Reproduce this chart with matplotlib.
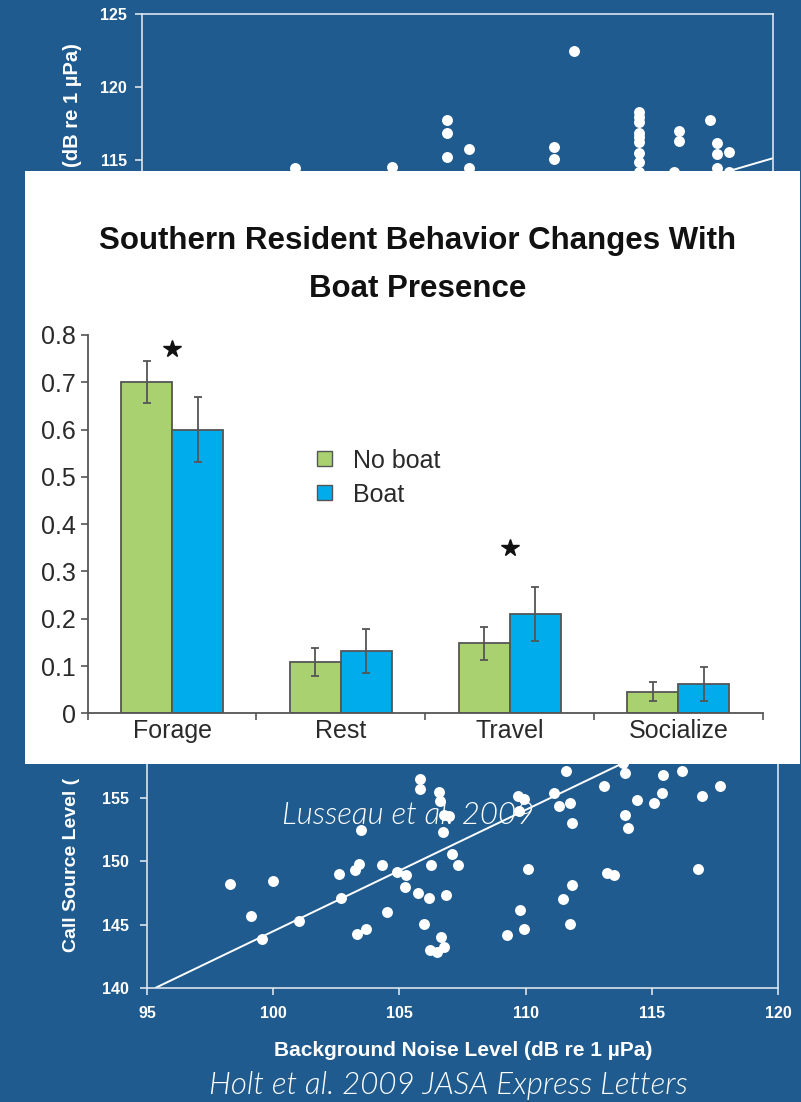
import matplotlib
matplotlib.use('Agg')
import matplotlib.pyplot as plt
from matplotlib.patches import Patch

plt.rcParams['font.family'] = ['Liberation Sans', 'DejaVu Sans']

W, H = 801, 1102
BG = '#1f5b8e'
GREEN = '#a9d16f'
BLUE = '#00acec'

# background scatter (Holt et al. 2009), strip above the inset
noise_top = [101.06, 104.89, 107.10, 107.10, 107.10, 107.94, 107.94, 112.13, 111.34, 111.34,
             114.69, 114.69, 114.69, 114.69, 114.69, 114.69, 114.69, 114.69, 114.69,
             116.29, 116.29, 117.50, 117.78, 117.78, 118.27, 117.78, 118.27, 116.09]
level_top = [114.46, 114.52, 117.73, 116.85, 115.20, 115.76, 114.47, 122.48, 115.91, 115.10,
             118.30, 117.96, 117.62, 116.87, 116.60, 116.26, 115.51, 114.89, 114.21,
             117.00, 116.30, 117.74, 116.19, 115.46, 115.59, 114.45, 114.23, 114.21]
# strip below the inset
noise_bot = [98.29, 99.12, 99.57, 99.98, 101.02, 102.59, 102.69, 103.26, 103.40, 103.49,
             103.31, 103.69, 104.32, 104.49, 104.92, 105.25, 105.21, 105.83, 105.83, 106.57,
             106.61, 106.75, 106.98, 106.73, 107.07, 107.31, 106.25, 105.75, 106.16, 106.85,
             105.98, 106.63, 106.21, 106.48, 106.78, 109.71, 109.93, 109.75, 110.10, 111.59,
             111.12, 111.31, 111.76, 111.85, 109.77, 109.93, 109.26, 111.50, 111.82, 111.76,
             113.11, 113.23, 113.49, 113.92, 113.92, 114.04, 114.41, 113.86, 115.09, 115.41,
             115.46, 116.21, 116.99, 117.72, 116.84]
level_bot = [148.20, 145.67, 143.83, 148.43, 145.30, 149.00, 147.11, 149.32, 149.82, 152.49,
             144.24, 144.65, 149.71, 146.00, 149.17, 148.93, 147.95, 156.52, 155.75, 155.49,
             154.75, 153.64, 153.61, 152.30, 150.57, 149.68, 149.70, 147.52, 147.07, 147.33,
             145.06, 144.00, 142.95, 142.81, 143.21, 155.21, 154.95, 154.03, 149.40, 157.13,
             155.38, 154.39, 154.62, 153.04, 146.18, 144.67, 144.20, 147.00, 148.14, 145.08,
             155.94, 149.06, 148.93, 157.00, 153.70, 152.64, 154.84, 157.79, 154.65, 155.41,
             156.82, 157.12, 155.18, 155.95, 149.40]
fit_top_x = [115.5, 120.0]
fit_top_y = [112.89, 115.15]
fit_bot_x = [95.35, 114.5]
fit_bot_y = [140.0, 158.4]
x_ticks = [95, 100, 105, 110, 115, 120]
y_ticks_top = [115, 120, 125]
y_ticks_bot = [140, 145, 150, 155]

# inset bar chart (Lusseau et al. 2009)
behaviours = ['Forage', 'Rest', 'Travel', 'Socialize']
no_boat = [0.70, 0.109, 0.148, 0.046]
no_boat_err = [0.044, 0.030, 0.035, 0.021]
boat = [0.60, 0.132, 0.21, 0.062]
boat_err = [0.068, 0.047, 0.057, 0.036]
star_x = [0, 2]
star_y = [0.77, 0.35]
bar_ticks = [0, 0.1, 0.2, 0.3, 0.4, 0.5, 0.6, 0.7, 0.8]
bar_tick_labels = ['0', '0.1', '0.2', '0.3', '0.4', '0.5', '0.6', '0.7', '0.8']


def box(l, t, r, b):
    # pixel box -> figure fraction
    return [l / W, 1 - b / H, (r - l) / W, (b - t) / H]


def style_scatter(ax, pad):
    ax.set_facecolor(BG)
    for s in ax.spines.values():
        s.set_color('#dbe4ee')
        s.set_linewidth(1.2)
    ax.tick_params(colors='#dbe4ee', length=5, width=1.2, pad=pad,
                   labelcolor='white', labelsize=11.5)
    for lab in ax.get_xticklabels() + ax.get_yticklabels():
        lab.set_fontweight('bold')


fig = plt.figure(figsize=(W / 100, H / 100), dpi=100)
fig.patch.set_facecolor(BG)

# upper part of scatter
ax1 = fig.add_axes(box(142, 13.7, 773, 200))
ax1.scatter(noise_top, level_top, s=62, color='white', zorder=3, linewidths=0)
ax1.plot(fit_top_x, fit_top_y, color='white', lw=1.4)
ax1.set_xlim(95, 120)
ax1.set_ylim(125 - (200 - 13.7) / 14.67, 125)
ax1.set_yticks(y_ticks_top)
ax1.set_xticks([])
ax1.spines['bottom'].set_visible(False)
style_scatter(ax1, 6)

# lower part of scatter
ax2 = fig.add_axes(box(147, 740, 778, 987.7))
ax2.scatter(noise_bot, level_bot, s=62, color='white', zorder=3, linewidths=0)
ax2.plot(fit_bot_x, fit_bot_y, color='white', lw=1.4)
ax2.set_xlim(95, 120)
ax2.set_ylim(140, 140 + (987.7 - 740) / 12.63)
ax2.set_xticks(x_ticks)
ax2.set_yticks(y_ticks_bot)
ax2.spines['top'].set_visible(False)
style_scatter(ax2, 8)

# y label is split by the inset: only its two ends show
ax1.text(72 / W, 1 - 43 / H, '(dB re 1 \u00b5Pa)', rotation=90, ha='center', va='top',
         color='white', fontsize=14.5, fontweight='bold',
         transform=fig.transFigure, clip_on=False)
ax2.text(72 / W, 1 - 952 / H, 'Call Source Level (', rotation=90, ha='center', va='bottom',
         color='white', fontsize=14, fontweight='bold',
         transform=fig.transFigure, clip_on=False)
ax2.text(463 / W, 1 - 1050 / H, 'Background Noise Level (dB re 1 \u00b5Pa)',
         ha='center', va='center', color='white', fontsize=15, fontweight='bold',
         transform=fig.transFigure, clip_on=False)
ax2.text(408 / W, 1 - 815 / H, 'Lusseau et al. 2009', ha='center', va='center',
         color='white', fontsize=22.5, style='italic', fontweight=300,
         family=['Lato', 'DejaVu Sans'], transform=fig.transFigure, zorder=2)
fig.text(448 / W, 1 - 1086 / H, 'Holt et al. 2009 JASA Express Letters',
         ha='center', va='center', color='white', fontsize=22.5, style='italic',
         fontweight=300, family=['Lato', 'DejaVu Sans'])

# white inset panel
axw = fig.add_axes(box(24.5, 171, 800, 764))
axw.set_facecolor('white')
axw.set_xticks([])
axw.set_yticks([])
for s in axw.spines.values():
    s.set_visible(False)

fig.text(418 / W, 1 - 265 / H, 'Southern Resident Behavior Changes With\nBoat Presence',
         ha='center', va='center', fontsize=22.5, fontweight='bold', linespacing=1.75,
         color='#111111')

ax3 = fig.add_axes(box(87.7, 335, 762.7, 713.3))
ax3.set_facecolor('none')
xs = range(len(behaviours))
bw = 0.302
ax3.bar([x - bw / 2 for x in xs], no_boat, bw, color=GREEN, edgecolor='#555555', lw=1.3, zorder=2)
ax3.bar([x + bw / 2 for x in xs], boat, bw, color=BLUE, edgecolor='#555555', lw=1.3, zorder=2)
ax3.errorbar([x - bw / 2 for x in xs], no_boat, yerr=no_boat_err, fmt='none',
             ecolor='#555555', elinewidth=1.3, capsize=3, capthick=1.3, zorder=3)
ax3.errorbar([x + bw / 2 for x in xs], boat, yerr=boat_err, fmt='none',
             ecolor='#555555', elinewidth=1.3, capsize=3, capthick=1.3, zorder=3)
ax3.plot(star_x, star_y, ls='none', marker='*', ms=13, color='#111111')
ax3.set_xlim(-0.5, 3.5)
ax3.set_ylim(0, 0.8)
ax3.set_yticks(bar_ticks)
ax3.set_yticklabels(bar_tick_labels)
ax3.set_xticks([-0.5, 0.5, 1.5, 2.5, 3.5])
ax3.set_xticklabels([])
ax3.set_xticks(list(xs), minor=True)
ax3.set_xticklabels(behaviours, minor=True)
ax3.tick_params(axis='x', which='minor', length=0, pad=4)
ax3.tick_params(axis='both', which='major', length=5, width=1.2, color='#555555')
ax3.tick_params(axis='both', which='both', labelsize=18, labelcolor='#2a2a2a')
for s in ['top', 'right']:
    ax3.spines[s].set_visible(False)
for s in ['left', 'bottom']:
    ax3.spines[s].set_color('#555555')
    ax3.spines[s].set_linewidth(1.3)

handles = [Patch(facecolor=GREEN, edgecolor='#555555'), Patch(facecolor=BLUE, edgecolor='#555555')]
ax3.legend(handles, ['No boat', 'Boat'], loc='upper left', frameon=False, fontsize=18,
           bbox_to_anchor=(304 / W, 1 - 436 / H), bbox_transform=fig.transFigure,
           borderpad=0, handlelength=0.6, handleheight=0.55, handletextpad=0.85,
           labelspacing=0.4, labelcolor='#2a2a2a')

fig.savefig('out.png', dpi=100, facecolor=BG)
